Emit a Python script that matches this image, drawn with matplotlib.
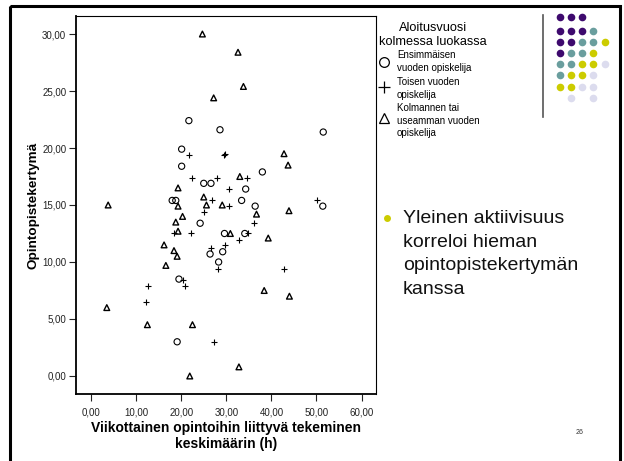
import matplotlib
matplotlib.use("Agg")
import matplotlib.pyplot as plt
from matplotlib.patches import Rectangle

plt.rcParams["font.family"] = ["Liberation Sans", "DejaVu Sans"]

# data: x = weekly study hours, y = credits
first_x = [21.7, 28.6, 51.5, 20.1, 20.1, 38.0, 25.0, 26.6, 34.3, 18.0, 18.8,
           33.4, 36.4, 51.4, 24.2, 29.6, 34.1, 26.4, 29.2, 28.3, 19.5, 19.1]
first_y = [22.4, 21.6, 21.4, 19.9, 18.4, 17.9, 16.9, 16.9, 16.4, 15.4, 15.4,
           15.4, 14.9, 14.9, 13.4, 12.5, 12.5, 10.7, 10.9, 10.0, 8.5, 3.0]

second_x = [21.8, 29.6, 29.8, 22.3, 28.0, 34.6, 30.7, 26.8, 30.7, 50.2, 25.0,
            36.2, 18.4, 22.1, 34.8, 32.8, 26.6, 29.8, 28.2, 42.9, 20.3, 20.9,
            12.7, 12.1, 27.3]
second_y = [19.4, 19.4, 19.5, 17.4, 17.4, 17.4, 16.4, 15.4, 14.9, 15.4, 14.4,
            13.4, 12.5, 12.5, 12.5, 11.9, 11.2, 11.5, 9.4, 9.4, 8.4, 7.9,
            7.9, 6.5, 3.0]

third_x = [24.7, 32.6, 33.8, 27.2, 42.8, 43.7, 33.0, 19.3, 25.0, 3.8, 19.3,
           25.6, 29.1, 36.7, 43.9, 20.3, 18.8, 19.3, 30.9, 39.3, 16.2, 18.4,
           19.1, 16.6, 3.5, 38.4, 44.0, 12.5, 22.5, 32.8, 21.9]
third_y = [30.0, 28.4, 25.4, 24.4, 19.5, 18.5, 17.5, 16.5, 15.7, 15.0, 14.9,
           15.0, 15.0, 14.2, 14.5, 14.0, 13.5, 12.7, 12.5, 12.1, 11.5, 11.0,
           10.5, 9.7, 6.0, 7.5, 7.0, 4.5, 4.5, 0.8, 0.0]

x_ticks = [0, 10, 20, 30, 40, 50, 60]
y_ticks = [0, 5, 10, 15, 20, 25, 30]

legend_title = "Aloitusvuosi\nkolmessa luokassa"
legend_labels = ["Ensimmäisen\nvuoden opiskelija",
                 "Toisen vuoden\nopiskelija",
                 "Kolmannen tai\nuseamman vuoden\nopiskelija"]
bullet_lines = ["Yleinen aktiivisuus", "korreloi hieman",
                "opintopistekertymän", "kanssa"]

# decorative dot grid in the corner of the slide
PURPLE, TEAL, YELLOW, LAV = "#3e0a6e", "#6a9e9e", "#cccc00", "#dcdcee"
dot_rows = [
    [PURPLE, PURPLE, PURPLE, None, None],
    [PURPLE, PURPLE, PURPLE, TEAL, None],
    [PURPLE, PURPLE, TEAL, TEAL, YELLOW],
    [PURPLE, TEAL, TEAL, YELLOW, None],
    [TEAL, TEAL, YELLOW, YELLOW, LAV],
    [TEAL, YELLOW, YELLOW, LAV, None],
    [YELLOW, YELLOW, LAV, LAV, None],
    [None, LAV, None, LAV, None],
]

W, H = 624, 461
fig = plt.figure(figsize=(W / 100, H / 100), dpi=100)

ax = fig.add_axes([76 / W, 1 - 394 / H, 300 / W, 378 / H])
ax.scatter(first_x, first_y, s=20, marker="o", facecolors="none",
           edgecolors="black", linewidths=0.8)
ax.scatter(second_x, second_y, s=24, marker="+", color="black", linewidths=0.8)
ax.scatter(third_x, third_y, s=17, marker="^", facecolors="none",
           edgecolors="black", linewidths=1.0)

ax.set_xlim(-3.33, 63.2)
ax.set_ylim(-1.58, 31.58)
ax.set_xticks(x_ticks)
ax.set_yticks(y_ticks)
ax.set_xticklabels([f"{v:.2f}".replace(".", ",") for v in x_ticks])
ax.set_yticklabels([f"{v:.2f}".replace(".", ",") for v in y_ticks])
ax.tick_params(labelsize=7, length=5, width=0.8, colors="#222222", pad=2)
ax.tick_params(axis="x", pad=5)
for side in ["left", "bottom"]:
    ax.spines[side].set_linewidth(1.3)
for side in ["top", "right"]:
    ax.spines[side].set_linewidth(0.8)

# overlay in pixel coordinates for slide decorations, drawn on top
deco = fig.add_axes([0, 0, 1, 1])
deco.set_xlim(0, W)
deco.set_ylim(H, 0)
deco.axis("off")
deco.set_zorder(5)

deco.text(226, 436,
          "Viikottainen opintoihin liittyvä tekeminen\nkeskimäärin (h)",
          ha="center", va="center", fontsize=10, fontweight="bold",
          linespacing=1.15)
deco.text(33, 205, "Opintopistekertymä", rotation=90,
          ha="center", va="center", fontsize=9.7, fontweight="bold")

# outer slide frame (bottom edge runs off the page)
deco.add_patch(Rectangle((10, 6), 610, 470, fill=False, lw=2.2,
                         edgecolor="black", clip_on=False))

# legend
deco.text(433, 35, legend_title, ha="center", va="center", fontsize=9.2,
          linespacing=1.3)
deco.plot([384], [62], marker="o", ms=7, mfc="none", mec="black", mew=0.9)
deco.plot([384], [87], marker="+", ms=8, color="black", mew=0.9)
deco.plot([384], [118], marker="^", ms=7, mfc="none", mec="black", mew=0.9)
deco.text(397, 61.5, legend_labels[0], ha="left", va="center", fontsize=7,
          linespacing=1.3)
deco.text(397, 88.5, legend_labels[1], ha="left", va="center", fontsize=7,
          linespacing=1.3)
deco.text(397, 120.5, legend_labels[2], ha="left", va="center", fontsize=7,
          linespacing=1.3)

# dot grid and its divider line
deco.plot([543, 543], [15, 117], color="#555555", lw=1.2)
col_x = [560, 571, 582, 593, 605]
row_y = [17, 31, 42, 53, 64, 75, 87, 98]
for r, row in enumerate(dot_rows):
    for c, col in enumerate(row):
        if col:
            deco.plot(col_x[c], row_y[r], "o", ms=5.5, color=col, mec="none")

# bullet text
deco.plot(387, 218, "o", ms=5, color=YELLOW, mec="none")
for i, line in enumerate(bullet_lines):
    deco.text(403, 223 + 23.5 * i, line, ha="left", va="baseline",
              fontsize=14, color="#111111")

deco.text(580, 432, "26", ha="center", va="center", fontsize=5, color="#333333")

fig.savefig("out.png", dpi=100)
plt.close(fig)
